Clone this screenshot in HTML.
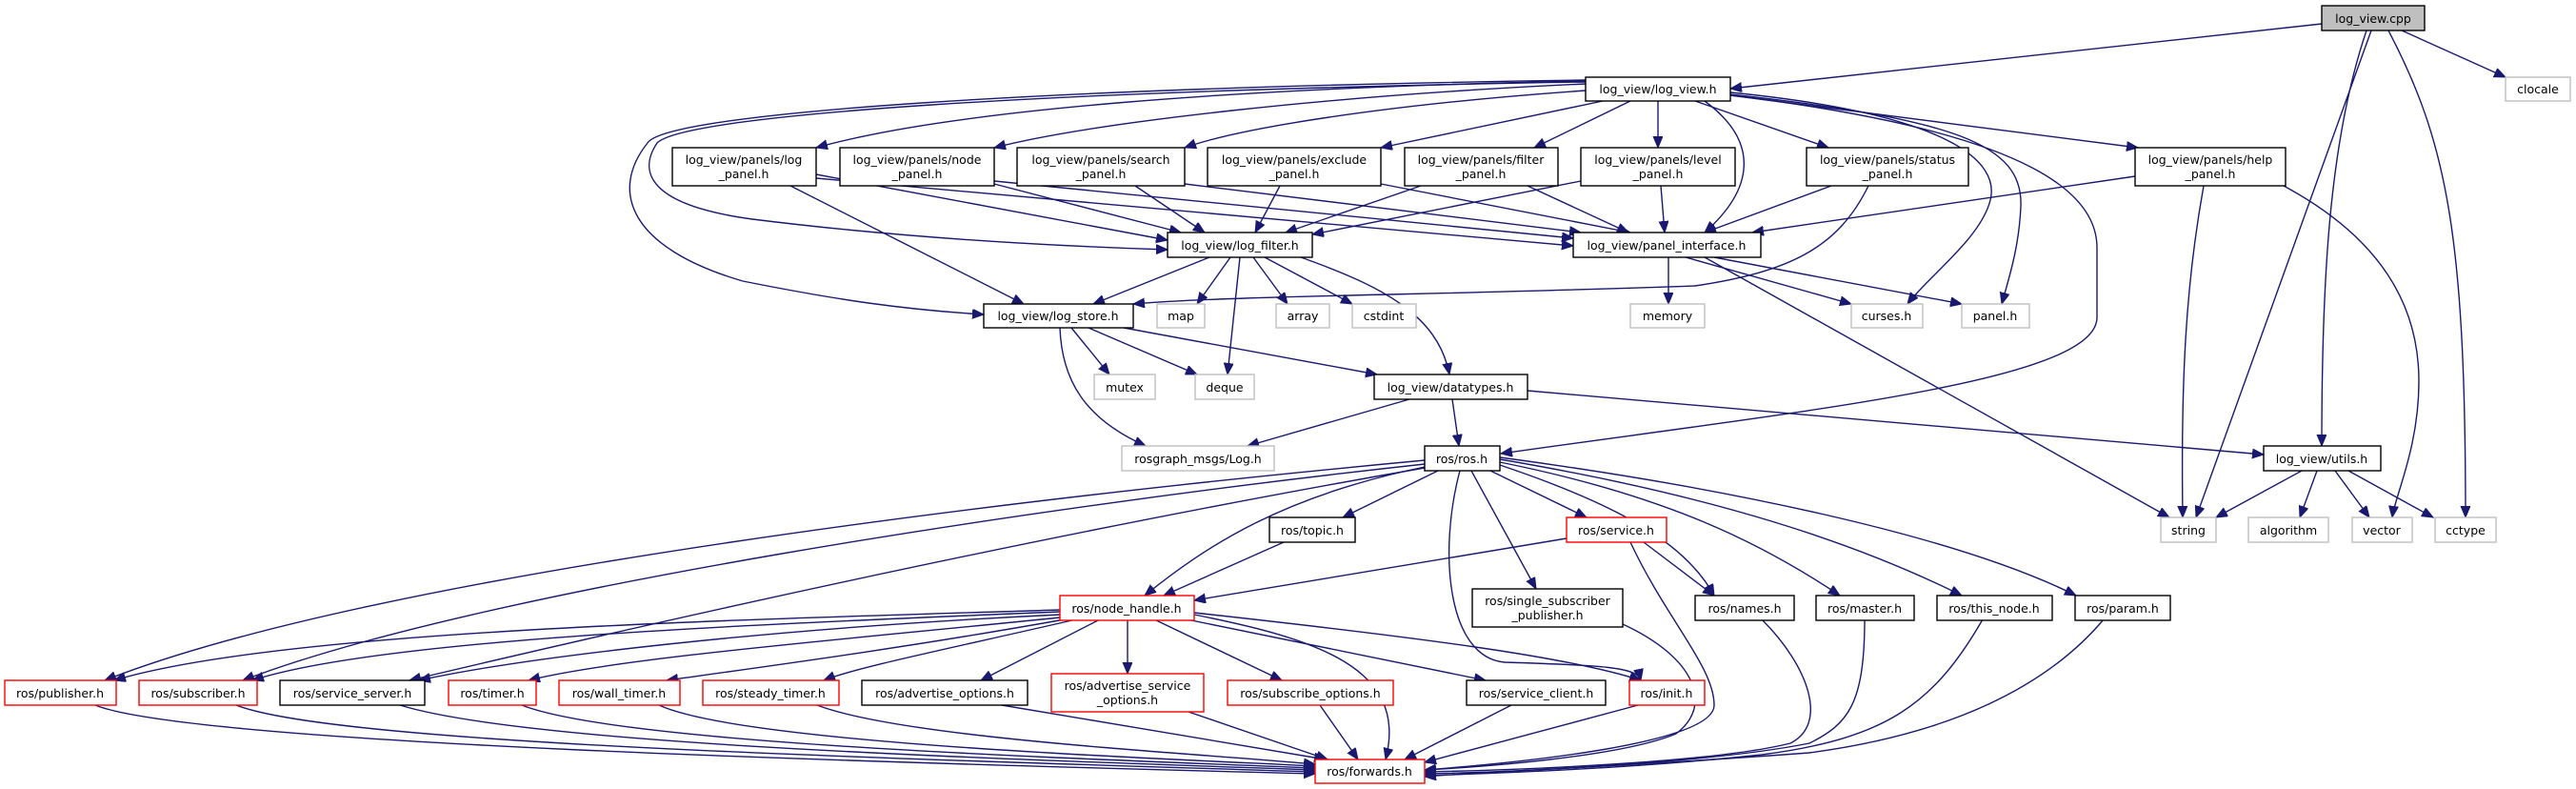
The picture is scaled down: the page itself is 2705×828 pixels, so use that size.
<!DOCTYPE html>
<html><head><meta charset="utf-8"><style>
html,body{margin:0;padding:0;background:#fff;}
svg{display:block;}
text{font-family:"DejaVu Sans","Liberation Sans",sans-serif;font-size:12.5px;fill:#000;text-anchor:middle;}
.e{fill:none;stroke:#191970;stroke-width:1.4;marker-end:url(#a);}
.b{fill:#fff;stroke:#000;stroke-width:1.4;}
.r{fill:#fff;stroke:#ff0000;stroke-width:1.4;}
.g{fill:#fff;stroke:#bfbfbf;stroke-width:1.4;}
</style></head><body>
<svg width="2705" height="828" viewBox="0 0 2705 828" xmlns="http://www.w3.org/2000/svg">
<defs><marker id="a" markerUnits="userSpaceOnUse" markerWidth="14" markerHeight="12" refX="12" refY="5" orient="auto"><path d="M0,0 L12,5 L0,10 z" fill="#191970" stroke="#191970"/></marker></defs>
<g>
<path class="e" d="M2438,25 L1817,93"/>
<path class="e" d="M2522,32 L2631,81"/>
<path class="e" d="M2485,32 C2445,150 2438,300 2438,468"/>
<path class="e" d="M2490,32 L2306,543"/>
<path class="e" d="M2508,32 C2570,150 2589,250 2589,543"/>
<path class="e" d="M1665,85 C1300,92 1000,115 857,155"/>
<path class="e" d="M1665,88 C1400,100 1150,128 1044,155"/>
<path class="e" d="M1665,95 C1450,110 1300,135 1244,155"/>
<path class="e" d="M1683,106 L1450,155"/>
<path class="e" d="M1712,106 L1611,155"/>
<path class="e" d="M1741,106 L1741,155"/>
<path class="e" d="M1780,106 L1920,155"/>
<path class="e" d="M1817,100 L2245,155"/>
<path class="e" d="M1790,106 C1850,150 1840,200 1790,244"/>
<path class="e" d="M1665,86 C1100,95 720,120 690,150 C670,180 680,215 790,230 C950,250 1100,258 1226,262"/>
<path class="e" d="M1665,84 C1100,92 700,118 680,150 C640,200 660,260 780,295 C880,315 950,325 1033,330"/>
<path class="e" d="M1817,97 C2050,120 2100,170 2090,210 C2080,250 2025,290 2003,319"/>
<path class="e" d="M1817,99 C2050,125 2125,150 2122,217 C2120,260 2110,290 2102,319"/>
<path class="e" d="M1817,100 C2150,140 2202,210 2202,260 L2202,333 C2202,400 1900,430 1576,476"/>
<path class="e" d="M857,183 L1226,252"/>
<path class="e" d="M857,187 L1652,258"/>
<path class="e" d="M830,195 L1075,319"/>
<path class="e" d="M1044,193 L1240,244"/>
<path class="e" d="M1044,190 L1652,250"/>
<path class="e" d="M1192,195 L1265,244"/>
<path class="e" d="M1244,193 L1660,244"/>
<path class="e" d="M1344,195 L1318,244"/>
<path class="e" d="M1450,193 L1712,244"/>
<path class="e" d="M1492,195 L1350,244"/>
<path class="e" d="M1604,195 L1710,244"/>
<path class="e" d="M1660,190 L1378,246"/>
<path class="e" d="M1744,195 L1748,244"/>
<path class="e" d="M1923,195 L1790,244"/>
<path class="e" d="M1962,195 C1930,260 1880,285 1780,300 C1500,310 1300,310 1190,319"/>
<path class="e" d="M2242,185 L1840,244"/>
<path class="e" d="M2314,195 C2295,300 2290,400 2292,543"/>
<path class="e" d="M2398,195 C2500,250 2540,320 2540,400 C2540,470 2515,520 2512,543"/>
<path class="e" d="M1270,270 L1148,319"/>
<path class="e" d="M1292,270 L1257,319"/>
<path class="e" d="M1302,270 L1289,393"/>
<path class="e" d="M1316,270 L1352,319"/>
<path class="e" d="M1328,270 L1420,319"/>
<path class="e" d="M1366,270 C1450,300 1510,330 1522,393"/>
<path class="e" d="M1752,270 L1752,319"/>
<path class="e" d="M1770,270 L1944,319"/>
<path class="e" d="M1800,270 L2060,319"/>
<path class="e" d="M1790,270 L2278,543"/>
<path class="e" d="M1125,344 L1165,393"/>
<path class="e" d="M1143,344 L1257,393"/>
<path class="e" d="M1180,344 L1446,393"/>
<path class="e" d="M1113,344 C1115,400 1140,440 1203,468"/>
<path class="e" d="M1480,419 L1310,468"/>
<path class="e" d="M1525,419 L1532,468"/>
<path class="e" d="M1604,410 L2377,477"/>
<path class="e" d="M2417,494 L2327,543"/>
<path class="e" d="M2433,494 L2415,543"/>
<path class="e" d="M2452,494 L2488,543"/>
<path class="e" d="M2466,494 L2555,543"/>
<path class="e" d="M1510,494 L1410,543"/>
<path class="e" d="M1565,494 L1666,543"/>
<path class="e" d="M1496,490 C1350,520 1270,570 1202,625"/>
<path class="e" d="M1545,494 L1613,618"/>
<path class="e" d="M1533,494 C1510,580 1520,690 1580,695 C1680,698 1720,700 1723,714"/>
<path class="e" d="M1575,488 C1700,530 1770,570 1800,625"/>
<path class="e" d="M1575,485 C1750,520 1850,570 1932,625"/>
<path class="e" d="M1575,482 C1800,520 1950,570 2060,625"/>
<path class="e" d="M1575,480 C1800,510 2050,560 2180,625"/>
<path class="e" d="M1496,483 C1100,520 400,600 110,714"/>
<path class="e" d="M1496,487 C1100,530 500,620 255,714"/>
<path class="e" d="M1496,491 C1100,560 700,650 430,714"/>
<path class="e" d="M1348,569 L1222,625"/>
<path class="e" d="M1645,565 L1254,630"/>
<path class="e" d="M1726,569 L1800,625"/>
<path class="e" d="M1712,569 C1750,650 1800,700 1800,740 C1800,780 1600,800 1496,808"/>
<path class="e" d="M1113,640 C800,650 300,660 120,714"/>
<path class="e" d="M1113,642 C800,655 400,670 265,714"/>
<path class="e" d="M1113,645 C800,660 550,690 440,714"/>
<path class="e" d="M1113,648 C900,670 650,690 555,714"/>
<path class="e" d="M1118,650 C950,680 800,700 700,714"/>
<path class="e" d="M1130,650 C1000,680 900,700 865,714"/>
<path class="e" d="M1155,650 L1030,714"/>
<path class="e" d="M1184,650 L1184,707"/>
<path class="e" d="M1212,650 L1346,714"/>
<path class="e" d="M1246,650 L1560,714"/>
<path class="e" d="M1254,643 C1500,670 1650,690 1723,714"/>
<path class="e" d="M1254,645 C1380,670 1480,700 1455,797"/>
<path class="e" d="M100,740 C200,780 900,800 1381,812"/>
<path class="e" d="M248,740 C350,780 900,795 1381,810"/>
<path class="e" d="M420,740 C550,780 1000,795 1381,808"/>
<path class="e" d="M548,740 C650,780 1100,795 1381,806"/>
<path class="e" d="M692,740 C780,780 1200,795 1381,804"/>
<path class="e" d="M858,740 C950,775 1250,790 1381,802"/>
<path class="e" d="M1052,740 L1392,797"/>
<path class="e" d="M1248,747 L1394,797"/>
<path class="e" d="M1386,740 L1426,797"/>
<path class="e" d="M1587,740 L1475,797"/>
<path class="e" d="M1720,740 L1496,800"/>
<path class="e" d="M1704,655 C1780,690 1800,740 1760,770 C1700,795 1550,805 1496,808"/>
<path class="e" d="M1850,650 C1900,700 1920,760 1880,780 C1800,800 1600,808 1496,810"/>
<path class="e" d="M1958,650 C1958,740 1940,760 1900,780 C1800,800 1600,810 1496,812"/>
<path class="e" d="M2082,650 C2030,740 1980,775 1850,792 C1700,808 1550,812 1496,814"/>
<path class="e" d="M2209,650 C2150,720 2050,770 1900,790 C1700,805 1550,810 1496,815"/>
</g>
<g>
<rect x="2438" y="6" width="108" height="26" fill="#bfbfbf" stroke="#000" stroke-width="1.4"/><text x="2492" y="24">log_view.cpp</text>
<rect class="g" x="2631" y="81" width="68" height="25"/><text x="2665" y="98">clocale</text>
<rect class="b" x="1665" y="81" width="152" height="25"/><text x="1741" y="98">log_view/log_view.h</text>

<rect class="b" x="706" y="155" width="151" height="40"/><text x="781" y="172">log_view/panels/log</text><text x="781" y="187">_panel.h</text>
<rect class="b" x="882" y="155" width="162" height="40"/><text x="963" y="172">log_view/panels/node</text><text x="963" y="187">_panel.h</text>
<rect class="b" x="1068" y="155" width="176" height="40"/><text x="1156" y="172">log_view/panels/search</text><text x="1156" y="187">_panel.h</text>
<rect class="b" x="1268" y="155" width="182" height="40"/><text x="1359" y="172">log_view/panels/exclude</text><text x="1359" y="187">_panel.h</text>
<rect class="b" x="1475" y="155" width="161" height="40"/><text x="1555" y="172">log_view/panels/filter</text><text x="1555" y="187">_panel.h</text>
<rect class="b" x="1660" y="155" width="162" height="40"/><text x="1741" y="172">log_view/panels/level</text><text x="1741" y="187">_panel.h</text>
<rect class="b" x="1897" y="155" width="170" height="40"/><text x="1982" y="172">log_view/panels/status</text><text x="1982" y="187">_panel.h</text>
<rect class="b" x="2242" y="155" width="158" height="40"/><text x="2321" y="172">log_view/panels/help</text><text x="2321" y="187">_panel.h</text>

<rect class="b" x="1226" y="244" width="152" height="26"/><text x="1302" y="262">log_view/log_filter.h</text>
<rect class="b" x="1652" y="244" width="197" height="26"/><text x="1750" y="262">log_view/panel_interface.h</text>

<rect class="b" x="1033" y="319" width="157" height="25"/><text x="1111" y="336">log_view/log_store.h</text>
<rect class="g" x="1215" y="319" width="50" height="25"/><text x="1240" y="336">map</text>
<rect class="g" x="1340" y="319" width="56" height="25"/><text x="1368" y="336">array</text>
<rect class="g" x="1420" y="319" width="67" height="25"/><text x="1453" y="336">cstdint</text>
<rect class="g" x="1712" y="319" width="78" height="25"/><text x="1751" y="336">memory</text>
<rect class="g" x="1944" y="319" width="75" height="25"/><text x="1981" y="336">curses.h</text>
<rect class="g" x="2060" y="319" width="71" height="25"/><text x="2095" y="336">panel.h</text>

<rect class="g" x="1149" y="393" width="64" height="26"/><text x="1181" y="411">mutex</text>
<rect class="g" x="1255" y="393" width="62" height="26"/><text x="1286" y="411">deque</text>
<rect class="b" x="1443" y="393" width="161" height="26"/><text x="1523" y="411">log_view/datatypes.h</text>

<rect class="g" x="1178" y="468" width="160" height="26"/><text x="1258" y="486">rosgraph_msgs/Log.h</text>
<rect class="b" x="1496" y="468" width="79" height="26"/><text x="1535" y="486">ros/ros.h</text>
<rect class="b" x="2377" y="468" width="123" height="26"/><text x="2438" y="486">log_view/utils.h</text>

<rect class="b" x="1333" y="543" width="90" height="26"/><text x="1378" y="561">ros/topic.h</text>
<rect class="r" x="1645" y="543" width="105" height="26"/><text x="1697" y="561">ros/service.h</text>
<rect class="g" x="2269" y="543" width="58" height="26"/><text x="2298" y="561">string</text>
<rect class="g" x="2361" y="543" width="84" height="26"/><text x="2403" y="561">algorithm</text>
<rect class="g" x="2470" y="543" width="63" height="26"/><text x="2501" y="561">vector</text>
<rect class="g" x="2557" y="543" width="64" height="26"/><text x="2589" y="561">cctype</text>

<rect class="r" x="1113" y="625" width="141" height="26"/><text x="1183" y="643">ros/node_handle.h</text>
<rect class="b" x="1546" y="618" width="158" height="40"/><text x="1625" y="635">ros/single_subscriber</text><text x="1625" y="650">_publisher.h</text>
<rect class="b" x="1780" y="625" width="104" height="26"/><text x="1832" y="643">ros/names.h</text>
<rect class="b" x="1907" y="625" width="103" height="26"/><text x="1958" y="643">ros/master.h</text>
<rect class="b" x="2034" y="625" width="121" height="26"/><text x="2094" y="643">ros/this_node.h</text>
<rect class="b" x="2179" y="625" width="100" height="26"/><text x="2229" y="643">ros/param.h</text>

<rect class="r" x="5" y="714" width="117" height="26"/><text x="63" y="732">ros/publisher.h</text>
<rect class="r" x="146" y="714" width="124" height="26"/><text x="208" y="732">ros/subscriber.h</text>
<rect class="b" x="294" y="714" width="152" height="26"/><text x="370" y="732">ros/service_server.h</text>
<rect class="r" x="471" y="714" width="92" height="26"/><text x="517" y="732">ros/timer.h</text>
<rect class="r" x="587" y="714" width="127" height="26"/><text x="650" y="732">ros/wall_timer.h</text>
<rect class="r" x="738" y="714" width="143" height="26"/><text x="809" y="732">ros/steady_timer.h</text>
<rect class="b" x="905" y="714" width="174" height="26"/><text x="992" y="732">ros/advertise_options.h</text>
<rect class="r" x="1104" y="707" width="160" height="40"/><text x="1184" y="724">ros/advertise_service</text><text x="1184" y="739">_options.h</text>
<rect class="r" x="1289" y="714" width="174" height="26"/><text x="1376" y="732">ros/subscribe_options.h</text>
<rect class="b" x="1540" y="714" width="146" height="26"/><text x="1613" y="732">ros/service_client.h</text>
<rect class="r" x="1711" y="714" width="79" height="26"/><text x="1750" y="732">ros/init.h</text>

<rect class="r" x="1381" y="797" width="115" height="25"/><text x="1438" y="814">ros/forwards.h</text>
</g>
</svg>
</body></html>
